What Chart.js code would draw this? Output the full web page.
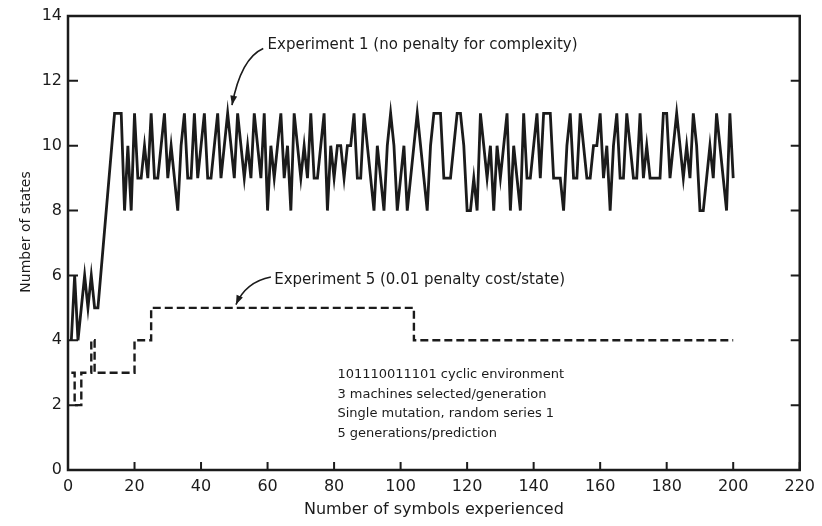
<!DOCTYPE html>
<html>
<head>
<meta charset="utf-8">
<title>Number of states</title>
<script src="https://cdn.jsdelivr.net/npm/chart.js@4.4.1/dist/chart.umd.min.js"></script>
<style>
  html, body { margin: 0; padding: 0; background: #fff; }
  #wrap { width: 822px; height: 526px; }
</style>
</head>
<body>
<div id="wrap"><canvas id="grafica" width="822" height="526"></canvas></div>
<script>
// Ticks de los ejes
const xTicks = [0, 20, 40, 60, 80, 100, 120, 140, 160, 180, 200, 220];
const yTicks = [0, 2, 4, 6, 8, 10, 12, 14];

// Experiment 1: primeros símbolos
const exp1StartX = [1, 2, 3, 4, 5, 6, 7, 8, 9];
const exp1StartY = [4, 6, 4, 5, 6, 5, 6, 5, 5];
// Experiment 1: un valor por símbolo desde x = 14
const exp1FirstX = 14;
const exp1Y = [
  11, 11, 11, 8, 10, 8, 11, 9, 9, 10,
  9, 11, 9, 9, 10, 11, 9, 10, 9, 8,
  10, 11, 9, 9, 11, 9, 10, 11, 9, 9,
  10, 11, 9, 10, 11, 10, 9, 11, 10, 9,
  10, 9, 11, 10, 9, 11, 8, 10, 9, 10,
  11, 9, 10, 8, 11, 10, 9, 10, 9, 11,
  9, 9, 10, 11, 8, 10, 9, 10, 10, 9,
  10, 10, 11, 9, 9, 11, 10, 9, 8, 10,
  9, 8, 10, 11, 10, 8, 9, 10, 8, 9,
  10, 11, 10, 9, 8, 10, 11, 11, 11, 9,
  9, 9, 10, 11, 11, 10, 8, 8, 9, 8,
  11, 10, 9, 10, 8, 10, 9, 10, 11, 8,
  10, 9, 8, 11, 9, 9, 10, 11, 9, 11,
  11, 11, 9, 9, 9, 8, 10, 11, 9, 9,
  11, 10, 9, 9, 10, 10, 11, 9, 10, 8,
  10, 11, 9, 9, 11, 10, 9, 9, 11, 9,
  10, 9, 9, 9, 9, 11, 11, 9, 10, 11,
  10, 9, 10, 9, 11, 10, 8, 8, 9, 10,
  9, 11, 10, 9, 8, 11, 9
];

// Experiment 5 (escalones)
const exp5X = [1, 2, 4, 7, 8, 20, 25, 104, 200];
const exp5Y = [3, 2, 3, 4, 3, 4, 5, 4, 4];

// Textos
const labelExp1 = 'Experiment 1 (no penalty for complexity)';
const labelExp5 = 'Experiment 5 (0.01 penalty cost/state)';
const notas = [
  '101110011101 cyclic environment',
  '3 machines selected/generation',
  'Single mutation, random series 1',
  '5 generations/prediction'
];
const tituloX = 'Number of symbols experienced';
const tituloY = 'Number of states';

const tinta = '#1b1b1b';
const fuente = '"DejaVu Sans", "Liberation Sans", sans-serif';

const puntosExp1 = exp1StartX.map((x, i) => ({ x, y: exp1StartY[i] }))
  .concat(exp1Y.map((y, i) => ({ x: exp1FirstX + i, y })));
const puntosExp5 = exp5X.map((x, i) => ({ x, y: exp5Y[i] }));

function flecha(ctx, x0, y0, cx, cy, x1, y1) {
  ctx.beginPath();
  ctx.moveTo(x0, y0);
  ctx.quadraticCurveTo(cx, cy, x1, y1);
  ctx.stroke();
  const ang = Math.atan2(y1 - cy, x1 - cx);
  ctx.beginPath();
  ctx.moveTo(x1, y1);
  ctx.lineTo(x1 - 10 * Math.cos(ang - 0.35), y1 - 10 * Math.sin(ang - 0.35));
  ctx.lineTo(x1 - 10 * Math.cos(ang + 0.35), y1 - 10 * Math.sin(ang + 0.35));
  ctx.closePath();
  ctx.fill();
}

// Marco, ticks hacia adentro, títulos y anotaciones
const marco = {
  id: 'marco',
  afterDatasetsDraw(chart) {
    const { ctx, chartArea: a, scales: { x, y } } = chart;
    ctx.save();
    ctx.strokeStyle = tinta;
    ctx.fillStyle = tinta;
    ctx.lineWidth = 2.5;
    ctx.strokeRect(a.left, a.top, a.right - a.left, a.bottom - a.top);
    ctx.lineWidth = 2;
    ctx.beginPath();
    xTicks.forEach(v => {
      const px = x.getPixelForValue(v);
      ctx.moveTo(px, a.bottom);
      ctx.lineTo(px, a.bottom - 8);
    });
    yTicks.forEach(v => {
      const py = y.getPixelForValue(v);
      ctx.moveTo(a.left, py);
      ctx.lineTo(a.left + 10, py);
      ctx.moveTo(a.right, py);
      ctx.lineTo(a.right - 9, py);
    });
    ctx.stroke();

    // títulos de ejes
    ctx.textAlign = 'center';
    ctx.textBaseline = 'middle';
    ctx.font = '16px ' + fuente;
    ctx.fillText(tituloX, (a.left + a.right) / 2, 510);
    ctx.save();
    ctx.translate(26, 232);
    ctx.rotate(-Math.PI / 2);
    ctx.font = '14px ' + fuente;
    ctx.fillText(tituloY, 0, 0);
    ctx.restore();

    // anotaciones
    ctx.textAlign = 'left';
    ctx.font = '15px ' + fuente;
    ctx.fillText(labelExp1, x.getPixelForValue(60), y.getPixelForValue(13.1));
    ctx.fillText(labelExp5, x.getPixelForValue(62), y.getPixelForValue(5.85));
    ctx.lineWidth = 1.6;
    flecha(ctx, x.getPixelForValue(58.7), y.getPixelForValue(13.0),
      x.getPixelForValue(52), y.getPixelForValue(12.7),
      x.getPixelForValue(49.3), y.getPixelForValue(11.25));
    flecha(ctx, x.getPixelForValue(61), y.getPixelForValue(5.95),
      x.getPixelForValue(53.5), y.getPixelForValue(5.8),
      x.getPixelForValue(50.5), y.getPixelForValue(5.1));

    ctx.font = '13px ' + fuente;
    const y0 = y.getPixelForValue(2.93);
    notas.forEach((t, i) => ctx.fillText(t, x.getPixelForValue(81), y0 + i * 19.5));
    ctx.restore();
  }
};

window.onload = function() {
  new Chart(document.getElementById('grafica'), {
    type: 'line',
    data: {
      datasets: [
        { label: labelExp1, data: puntosExp1, borderColor: tinta, borderWidth: 2.8,
          pointRadius: 0, tension: 0 },
        { label: labelExp5, data: puntosExp5, borderColor: tinta, borderWidth: 2.4,
          borderDash: [8, 4], pointRadius: 0, stepped: true }
      ]
    },
    options: {
      responsive: false,
      animation: false,
      devicePixelRatio: 1,
      layout: { padding: { left: 0, right: 17, top: 16, bottom: 0 } },
      plugins: { legend: { display: false }, tooltip: { enabled: false } },
      scales: {
        x: {
          type: 'linear', min: 0, max: 220,
          afterBuildTicks: s => { s.ticks = xTicks.map(v => ({ value: v })); },
          afterFit: s => { s.height = 56; },
          grid: { display: false, drawTicks: false },
          border: { display: false },
          ticks: { color: tinta, padding: 7, maxRotation: 0, autoSkip: false,
            font: { family: fuente, size: 16 } }
        },
        y: {
          min: 0, max: 14,
          afterBuildTicks: s => { s.ticks = yTicks.map(v => ({ value: v })); },
          afterFit: s => { s.width = 68; },
          grid: { display: false, drawTicks: false },
          border: { display: false },
          ticks: { color: tinta, padding: 6, font: { family: fuente, size: 16 } }
        }
      }
    },
    plugins: [marco]
  });
};
</script>
</body>
</html>
